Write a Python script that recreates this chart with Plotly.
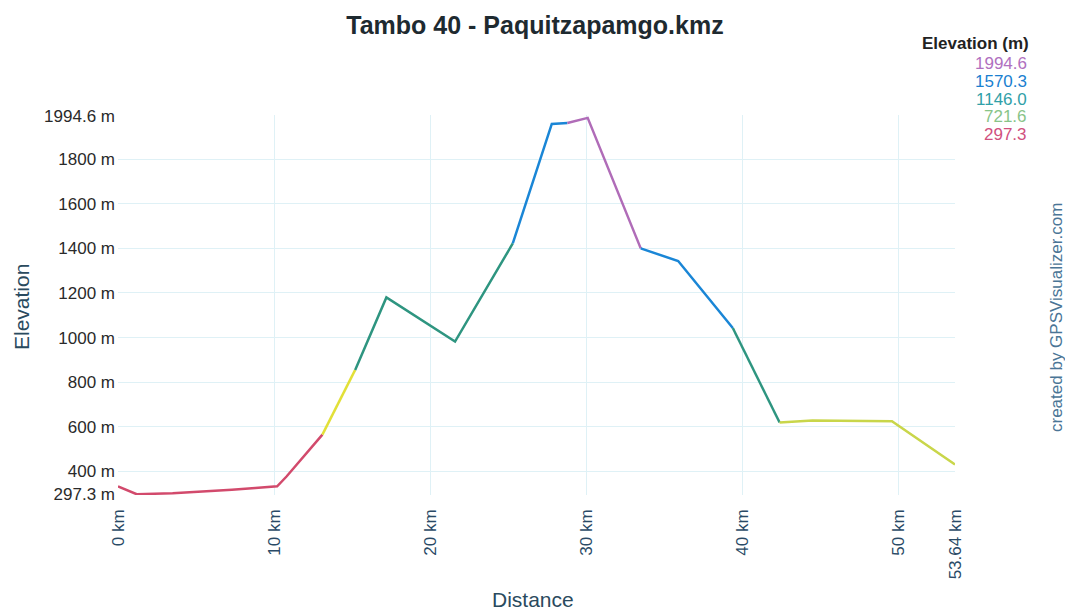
import plotly.graph_objects as go

# ---- data ----
distance_km = [0, 1.2, 3.5, 5.3, 7.3, 8.8, 10.2, 10.8, 11.9, 13.1, 15.2, 17.2, 21.6, 25.3,
               27.8, 28.8, 30.1, 33.5, 35.9, 39.4, 42.4, 44.5, 49.6, 53.64]
elevation_m = [333, 297.3, 302, 308, 318, 325, 333, 377, 467, 565, 855, 1180, 982, 1422,
               1958, 1962, 1985, 1400, 1343, 1043, 619, 628, 625, 431]
# colored pieces of the profile: (start index, end index, colour)
segment_start = [0, 9, 10, 13, 15, 17, 19, 20]
segment_end = [9, 10, 13, 15, 17, 19, 20, 23]
segment_color = ["#d24a6c", "#e2e038", "#2e9580", "#1a86d6", "#b06cb8", "#1a86d6", "#2e9580", "#c9d64a"]

y_tick_vals = [297.3, 400, 600, 800, 1000, 1200, 1400, 1600, 1800, 1994.6]
y_tick_text = ["297.3 m", "400 m", "600 m", "800 m", "1000 m", "1200 m", "1400 m", "1600 m", "1800 m", "1994.6 m"]
x_tick_vals = [0, 10, 20, 30, 40, 50, 53.64]
x_tick_text = ["0 km", "10 km", "20 km", "30 km", "40 km", "50 km", "53.64 km"]

legend_title = "Elevation (m)"
legend_values = ["1994.6", "1570.3", "1146.0", "721.6", "297.3"]
legend_colors = ["#b070c0", "#1a7fd0", "#30a0a8", "#88c488", "#d0507e"]

# page is drawn with an 8px body margin, so figure coords = page coords - 8
OFF = 8
W, H = 1073 - OFF, 616 - OFF
L, R, T, B = 118 - OFF, 955 - OFF, 115 - OFF, 495 - OFF
FONT = "Liberation Sans, Arial, sans-serif"

fig = go.Figure()
for s, e, c in zip(segment_start, segment_end, segment_color):
    fig.add_trace(go.Scatter(x=distance_km[s:e + 1], y=elevation_m[s:e + 1], mode="lines",
                             line=dict(color=c, width=2.5), showlegend=False, hoverinfo="x+y"))

def px(xp):
    return (xp - OFF - L) / (R - L)

def py(yp):
    return (B - (yp - OFF)) / (B - T)

ann = [dict(text="<b>" + legend_title + "</b>", x=px(1031), y=py(43), xref="paper", yref="paper",
            xanchor="right", yanchor="middle", showarrow=False,
            font=dict(size=17, color="#222222", family=FONT))]
for i, (v, c) in enumerate(zip(legend_values, legend_colors)):
    ann.append(dict(text=v, x=px(1029), y=py(64 + i * 17.6), xref="paper", yref="paper",
                    xanchor="right", yanchor="middle", showarrow=False,
                    font=dict(size=17, color=c, family=FONT)))
ann.append(dict(text="created by GPSVisualizer.com", x=px(1056), y=py(318), xref="paper", yref="paper",
                textangle=-90, xanchor="center", yanchor="middle", showarrow=False,
                font=dict(size=17, color="#4a7596", family=FONT)))
ann.append(dict(text="Distance", x=px(533), y=py(599), xref="paper", yref="paper",
                xanchor="center", yanchor="middle", showarrow=False,
                font=dict(size=21, color="#2a4a5e", family=FONT)))
ann.append(dict(text="Elevation", x=px(21), y=py(307), xref="paper", yref="paper",
                textangle=-90, xanchor="center", yanchor="middle", showarrow=False,
                font=dict(size=21, color="#2a4a5e", family=FONT)))

fig.update_layout(
    width=W, height=H, autosize=False,
    margin=dict(l=L, r=W - R, t=T, b=H - B),
    paper_bgcolor="white", plot_bgcolor="white",
    title=dict(text="<b>Tambo 40 - Paquitzapamgo.kmz</b>", x=(535 - OFF) / W, xanchor="center",
               y=1 - (25 - OFF) / H, yanchor="middle", font=dict(size=25, color="#1e2a30", family=FONT)),
    xaxis=dict(range=[0, 53.64], tickvals=x_tick_vals, ticktext=x_tick_text, tickangle=-90,
               showgrid=True, gridcolor="#dff1f6", gridwidth=1, zeroline=False, showline=False,
               ticks="", ticklabelstandoff=10, tickfont=dict(size=17, color="#2a4a66", family=FONT)),
    yaxis=dict(range=[294, 1998], tickvals=y_tick_vals, ticktext=y_tick_text,
               showgrid=True, gridcolor="#dff1f6", gridwidth=1, zeroline=False, showline=False,
               ticks="", ticklabelstandoff=2, tickfont=dict(size=17, color="#2a2a2a", family=FONT)),
    annotations=ann,
)

fig.write_html("out.html")
